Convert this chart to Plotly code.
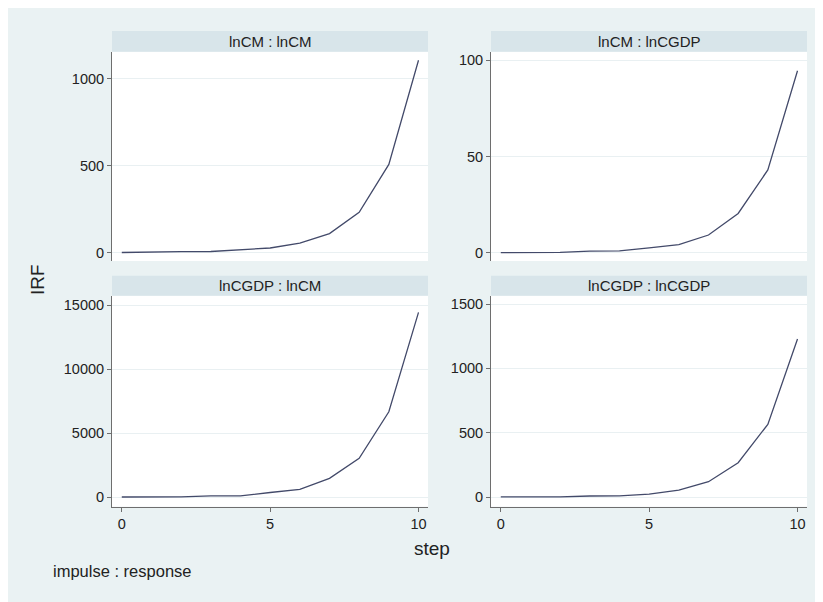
import plotly.graph_objects as go

# ---- data ----
steps = list(range(11))
irf_cm_cm = [1, 1.5, 6, 7, 15, 27, 55, 110, 233, 508, 1108]
irf_cm_cgdp = [0, 0.1, 0.2, 0.8, 1.0, 2.5, 4.2, 9.2, 20.4, 43, 94.5]
irf_cgdp_cm = [0, 5, 10, 80, 90, 350, 600, 1460, 3020, 6660, 14420]
irf_cgdp_cgdp = [1, 1, 2, 8, 9, 22, 54, 119, 267, 565, 1229]
panel_titles = ["lnCM : lnCM", "lnCM : lnCGDP", "lnCGDP : lnCM", "lnCGDP : lnCGDP"]
x_ticks = [0, 5, 10]
y_ticks_cm_cm = [0, 500, 1000]
y_ticks_cm_cgdp = [0, 50, 100]
y_ticks_cgdp_cm = [0, 5000, 10000, 15000]
y_ticks_cgdp_cgdp = [0, 500, 1000, 1500]

series = [irf_cm_cm, irf_cm_cgdp, irf_cgdp_cm, irf_cgdp_cgdp]
yticks = [y_ticks_cm_cm, y_ticks_cm_cgdp, y_ticks_cgdp_cm, y_ticks_cgdp_cgdp]

# ---- layout geometry (page pixels; page body has an 8px margin) ----
OFF = 8
W, H = 823 - OFF, 602 - OFF
def fx(x):
    return (x - OFF) / W
def fy(y):
    return 1 - (y - OFF) / H

BG = "#EAF2F3"
STRIP = "#D8E5EA"
GRID = "#E9F0F2"
AXIS = "#6E6E6E"
LINE = "#434A6A"
FONT = "Liberation Sans, Arial, Helvetica, sans-serif"

cols = [(112, 428), (491, 807)]
rows = [(51.7, 261), (295.7, 506.7)]   # plot area top/bottom
strips = [(31, 51.7), (275.7, 295.7)]
yranges = [[-47.8, 1157], [-4.3, 104.4], [-758, 15727], [-75, 1565]]
xrange_ = [-0.33, 10.32]

fig = go.Figure()
layout = dict(
    width=W, height=H, autosize=False,
    margin=dict(l=0, r=0, t=0, b=0),
    paper_bgcolor=BG, plot_bgcolor="white",
    showlegend=False,
    font=dict(family=FONT, color="#222222", size=14),
)
shapes = []
annotations = []

for i in range(4):
    r, c = divmod(i, 2)
    n = i + 1
    xa = "x" if n == 1 else f"x{n}"
    ya = "y" if n == 1 else f"y{n}"
    fig.add_trace(go.Scatter(x=steps, y=series[i], mode="lines",
                             line=dict(color=LINE, width=1.3),
                             xaxis=xa, yaxis=ya, hoverinfo="skip"))
    bottom = (r == 1)
    layout["xaxis" if n == 1 else f"xaxis{n}"] = dict(
        domain=[fx(cols[c][0]), fx(cols[c][1])],
        anchor=ya, range=xrange_,
        tickvals=x_ticks if bottom else [],
        showticklabels=bottom,
        ticks="outside" if bottom else "",
        ticklen=4, tickcolor=AXIS, tickwidth=1,
        showline=bottom, linecolor=AXIS, linewidth=1,
        showgrid=False, zeroline=False,
        tickfont=dict(size=14.5, family=FONT, color="#222222"),
    )
    layout["yaxis" if n == 1 else f"yaxis{n}"] = dict(
        domain=[fy(rows[r][1]), fy(rows[r][0])],
        anchor=xa, range=yranges[i],
        tickvals=yticks[i], ticktext=[str(v) for v in yticks[i]],
        ticks="outside", ticklen=4, tickcolor=AXIS, tickwidth=1,
        showline=True, linecolor=AXIS, linewidth=1,
        showgrid=True, gridcolor=GRID, gridwidth=1,
        zeroline=False,
        tickfont=dict(size=14.5, family=FONT, color="#222222"),
    )
    # strip title
    shapes.append(dict(type="rect", xref="paper", yref="paper",
                       x0=fx(cols[c][0]), x1=fx(cols[c][1]),
                       y0=fy(strips[r][1]), y1=fy(strips[r][0]),
                       fillcolor=STRIP, line=dict(width=0), layer="below"))
    annotations.append(dict(xref="paper", yref="paper",
                            x=fx((cols[c][0] + cols[c][1]) / 2),
                            y=fy((strips[r][0] + strips[r][1]) / 2),
                            text=panel_titles[i], showarrow=False,
                            xanchor="center", yanchor="middle",
                            font=dict(size=15, family=FONT, color="#222222")))

annotations.append(dict(xref="paper", yref="paper", x=fx(37), y=fy(280),
                        text="IRF", showarrow=False, textangle=-90,
                        xanchor="center", yanchor="middle",
                        font=dict(size=19, family=FONT, color="#222222")))
annotations.append(dict(xref="paper", yref="paper", x=fx(432), y=fy(548),
                        text="step", showarrow=False,
                        xanchor="center", yanchor="middle",
                        font=dict(size=19, family=FONT, color="#222222")))
annotations.append(dict(xref="paper", yref="paper", x=fx(51), y=fy(571),
                        text="impulse : response", showarrow=False,
                        xanchor="left", yanchor="middle",
                        font=dict(size=16.5, family=FONT, color="#222222")))

layout["shapes"] = shapes
layout["annotations"] = annotations
fig.update_layout(**layout)
fig.write_html("out.html")
